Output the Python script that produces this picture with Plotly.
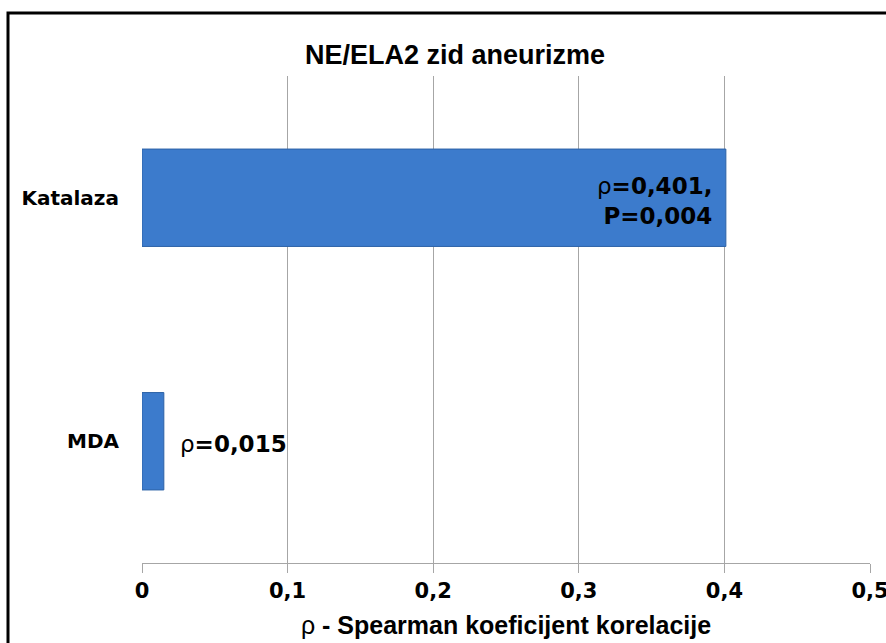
import plotly.graph_objects as go

categories = ["Katalaza", "MDA"]
rho_values = [0.401, 0.015]
rho_labels = ["0,401", "0,015"]
p_labels = ["0,004", None]
x_ticks = [0, 0.1, 0.2, 0.3, 0.4, 0.5]
title_text = "NE/ELA2 zid aneurizme"
x_title = "ρ - Spearman koeficijent korelacije"

W, H = 886, 643
L, R, T, B = 142, 16, 76, 80
pw, ph = W - L - R, H - T - B

fig = go.Figure()
fig.add_trace(go.Bar(
    y=categories, x=rho_values, orientation="h",
    marker=dict(color="#3c7bcc", line=dict(color="#2d62a6", width=1)),
    hoverinfo="skip", showlegend=False,
))

heavy = dict(family="DejaVu Sans", size=23, color="black", weight="bold")
for cat, v, r, p in zip(categories, rho_values, rho_labels, p_labels):
    if p is not None:
        txt = "<span style='font-weight:normal'>ρ</span>=" + r + ",<br>P=" + p
        fig.add_annotation(x=v, y=cat, xref="x", yref="y", text=txt,
                           showarrow=False, xanchor="right", yanchor="middle",
                           xshift=-12, yshift=-3, align="right", font=heavy)
    else:
        txt = "<span style='font-weight:normal'>ρ</span>=" + r
        fig.add_annotation(x=v, y=cat, xref="x", yref="y", text=txt,
                           showarrow=False, xanchor="left", yanchor="middle",
                           xshift=14, yshift=-3, align="left", font=heavy)

# outer border
fig.add_shape(type="rect", xref="paper", yref="paper",
              x0=(8 - L) / pw, x1=1.3,
              y0=-0.4, y1=((H - B) - 13) / ph,
              line=dict(color="black", width=3), fillcolor="rgba(0,0,0,0)")

narrow = "Liberation Sans Narrow, Arial Narrow, Liberation Sans, Arial"
fig.update_layout(
    width=W, height=H,
    margin=dict(l=L, r=R, t=T, b=B, autoexpand=False),
    paper_bgcolor="white", plot_bgcolor="white",
    separators=",.",
    bargap=0.6,
    title=dict(text="<b>" + title_text + "</b>", x=455 / W, xref="container",
               y=1 - 55 / H, yref="container", xanchor="center", yanchor="middle",
               font=dict(family=narrow, size=27, color="black")),
    xaxis=dict(range=[0, 0.5], tickvals=x_ticks, showgrid=True, gridcolor="#a6a6a6",
               gridwidth=1, zeroline=False, showline=True, linecolor="#a6a6a6",
               ticks="outside", ticklen=9, tickcolor="#a6a6a6",
               ticklabeloverflow="allow", automargin=False,
               tickfont=dict(family="DejaVu Sans", size=21, color="black", weight="bold"),
               title=dict(text="ρ<b> - Spearman koeficijent korelacije</b>", standoff=14,
                          font=dict(family=narrow, size=25, color="black"))),
    yaxis=dict(autorange="reversed", showgrid=False, zeroline=False, showline=False,
               ticks="", ticklabelstandoff=22, automargin=False,
               tickfont=dict(family="DejaVu Sans", size=20, color="black", weight="bold")),
)

fig.write_html("out.html")
